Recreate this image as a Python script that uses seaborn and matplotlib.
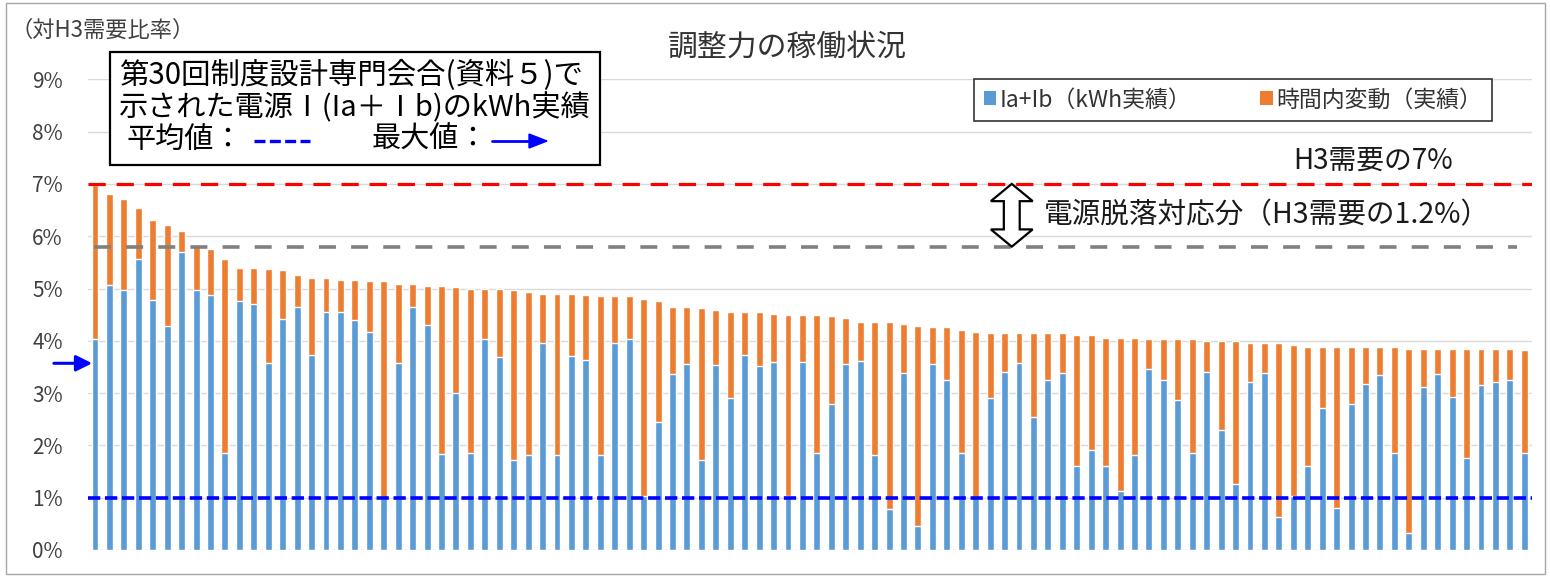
import numpy as np
import pandas as pd
import matplotlib
matplotlib.use("Agg")
import matplotlib.pyplot as plt
from matplotlib.patches import Patch, Rectangle, Polygon
from matplotlib.lines import Line2D
import seaborn as sns

# kWh actuals (Ia+Ib) as % of H3 demand, one value per record, sorted by total
ia_ib = [4.04, 5.06, 4.97, 5.57, 4.78, 4.28, 5.70, 4.97, 4.87, 1.85,
         4.76, 4.71, 3.58, 4.41, 4.64, 3.73, 4.55, 4.55, 4.39, 4.17,
         0.99, 3.58, 4.64, 4.30, 1.83, 3.01, 1.86, 4.04, 3.69, 1.72,
         1.82, 3.96, 1.82, 3.71, 3.64, 1.82, 3.96, 4.04, 1.03, 2.45,
         3.36, 3.55, 1.73, 3.54, 2.90, 3.73, 3.52, 3.60, 1.03, 3.60,
         1.85, 2.80, 3.55, 3.62, 1.82, 0.78, 3.38, 0.46, 3.55, 3.25,
         1.85, 1.02, 2.90, 3.41, 3.58, 2.55, 3.25, 3.38, 1.61, 1.91,
         1.61, 1.13, 1.82, 3.47, 3.25, 2.87, 1.85, 3.41, 2.29, 1.27,
         3.22, 3.38, 0.64, 1.03, 1.61, 2.71, 0.80, 2.80, 3.18, 3.34,
         1.85, 0.32, 3.12, 3.36, 2.93, 1.75, 3.15, 3.22, 3.25, 1.85]

# intra-hour fluctuation (actual), stacked on top of the kWh actuals
intra_hour = [2.93, 1.74, 1.74, 0.97, 1.53, 1.94, 0.40, 0.84, 0.88, 3.72,
              0.64, 0.69, 1.79, 0.94, 0.61, 1.47, 0.65, 0.62, 0.78, 0.97,
              4.15, 1.50, 0.44, 0.75, 3.22, 2.02, 3.14, 0.96, 1.31, 3.25,
              3.12, 0.94, 3.08, 1.19, 1.23, 3.03, 0.89, 0.81, 3.76, 2.31,
              1.29, 1.10, 2.89, 1.05, 1.65, 0.82, 1.03, 0.92, 3.47, 0.90,
              2.65, 1.67, 0.89, 0.73, 2.53, 3.57, 0.94, 3.83, 0.72, 1.02,
              2.35, 3.15, 1.25, 0.74, 0.57, 1.60, 0.90, 0.77, 2.51, 2.21,
              2.45, 2.93, 2.24, 0.56, 0.78, 1.16, 2.18, 0.59, 1.71, 2.73,
              0.74, 0.58, 3.32, 2.89, 2.28, 1.18, 3.09, 1.09, 0.71, 0.55,
              2.04, 3.53, 0.73, 0.49, 0.92, 2.10, 0.70, 0.63, 0.60, 1.97]

y_ticks = [0, 1, 2, 3, 4, 5, 6, 7, 8, 9]
y_tick_labels = [f"{v}%" for v in y_ticks]

limit_7pct = 7.0          # H3 demand 7%
outage_share = 1.2        # share for generator outage
kwh_avg = 1.0             # average of kWh actuals
kwh_max = 3.57            # maximum of kWh actuals

series_names = ["Ia+Ib（kWh実績）", "時間内変動（実績）"]
c_blue = "#5B9BD5"
c_orange = "#ED7D31"

sns.set_theme(style="white")
plt.rcParams["font.family"] = ["Noto Sans CJK JP", "DejaVu Sans"]

W, H = 1550, 578
fig = plt.figure(figsize=(W / 100, H / 100), dpi=100)


def fx(px):
    return px / W


def fy(py):
    return 1 - py / H


ax = fig.add_axes([fx(87.8), fy(550), fx(1443.7), (550 - 79.3) / H])

df = pd.DataFrame({
    "idx": np.arange(len(ia_ib)),
    "ia_ib": ia_ib,
    "intra": intra_hour,
})
df["total"] = df["ia_ib"] + df["intra"]

sns.barplot(data=df, x="idx", y="total", color=c_orange, saturation=1,
            width=0.48, errorbar=None, ax=ax, zorder=2)
sns.barplot(data=df, x="idx", y="ia_ib", color=c_blue, saturation=1,
            width=0.48, errorbar=None, ax=ax, zorder=2)

n = len(ia_ib)
ax.set_xlim(-0.5, n - 0.5)
ax.set_ylim(0, 9)
ax.set_yticks(y_ticks)
ax.set_yticklabels(y_tick_labels, fontsize=15, color="#404040")
ax.set_xticks([])
ax.set_xlabel("")
ax.set_ylabel("")
ax.tick_params(axis="y", length=0, pad=18)
for s in ax.spines.values():
    s.set_visible(False)
ax.yaxis.grid(True, color="#D9D9D9", lw=1.0)
ax.set_axisbelow(True)

# reference lines
ax.axhline(limit_7pct, color="#FF0000", lw=2.3, ls=(0, (5.4, 3.4)), zorder=4)
ax.axhline(limit_7pct - outage_share, xmin=0.004, xmax=0.99, color="#808080",
           lw=2.6, ls=(0, (4.7, 4.2)), zorder=4)
ax.axhline(kwh_avg, color="#0000FF", lw=2.6, ls=(0, (3.4, 1.3)), zorder=4)

# arrow marking the kWh maximum
ax.annotate("", xy=(0.003, kwh_max), xycoords=("axes fraction", "data"),
            xytext=(-0.0235, kwh_max), textcoords=("axes fraction", "data"),
            arrowprops=dict(arrowstyle="-|>", color="#0000FF", lw=2.2,
                            mutation_scale=24, shrinkA=0, shrinkB=0),
            annotation_clip=False, zorder=5)

# hollow double arrow spanning the outage share
xc = 63.5
hw, sw, hh = 1.45, 0.55, 0.33
top = limit_7pct
bot = limit_7pct - outage_share
arrow_pts = [(xc, top), (xc + hw, top - hh), (xc + sw, top - hh),
             (xc + sw, bot + hh), (xc + hw, bot + hh), (xc, bot),
             (xc - hw, bot + hh), (xc - sw, bot + hh), (xc - sw, top - hh),
             (xc - hw, top - hh)]
ax.add_patch(Polygon(arrow_pts, closed=True, facecolor="white",
                     edgecolor="black", lw=1.6, zorder=6, clip_on=False))

ax.text(65.7, 6.4, "電源脱落対応分（H3需要の1.2%）", fontsize=20.6,
        color="#1A1A1A", ha="left", va="center", zorder=6)
ax.text(88.5, 7.45, "H3需要の7%", fontsize=20, color="#1A1A1A",
        ha="center", va="center", zorder=6)

# title and axis caption
fig.text(fx(787), fy(47), "調整力の稼働状況", fontsize=21.5, color="#333333",
         ha="center", va="center")
fig.text(fx(10), fy(30), "（対H3需要比率）", fontsize=16, color="#404040",
         ha="left", va="center")

# legend
handles = [Patch(facecolor=c_blue, edgecolor="none"),
           Patch(facecolor=c_orange, edgecolor="none")]
leg = fig.legend(handles, series_names, loc="center",
                 bbox_to_anchor=(fx(1233), fy(100)), ncol=2, fontsize=16.5,
                 frameon=True, fancybox=False, framealpha=1,
                 edgecolor="#333333", handlelength=0.55, handleheight=0.55,
                 handletextpad=0.15, columnspacing=3.0, borderpad=0.42,
                 borderaxespad=0)
leg.get_frame().set_linewidth(1.2)
for t in leg.get_texts():
    t.set_color("#333333")

# note box about kWh actuals
fig.add_artist(Rectangle((fx(110), fy(165)), fx(490), (165 - 52) / H,
                         facecolor="white", edgecolor="black", lw=1.6,
                         zorder=5))
fig.text(fx(119), fy(75), "第30回制度設計専門会合(資料５)で", fontsize=21.2,
         color="black", ha="left", va="center", zorder=6)
fig.text(fx(119), fy(108), "示された電源Ⅰ(Ia＋Ⅰb)のkWh実績", fontsize=21,
         color="black", ha="left", va="center", zorder=6)
fig.text(fx(127), fy(140), "平均値：", fontsize=21, color="black",
         ha="left", va="center", zorder=6)
fig.text(fx(372), fy(140), "最大値：", fontsize=21, color="black",
         ha="left", va="center", zorder=6)
fig.add_artist(Line2D([fx(254), fx(310)], [fy(141), fy(141)],
                      color="#0000FF", lw=2.4, ls=(0, (3.3, 1.3)), zorder=6))
fig.add_artist(Line2D([fx(492), fx(530)], [fy(141), fy(141)],
                      color="#0000FF", lw=2.0, zorder=6))
fig.add_artist(Polygon([(fx(547), fy(141)), (fx(529), fy(134)),
                        (fx(529), fy(148))], closed=True, color="#0000FF",
                       zorder=6))

# outer frame
fig.add_artist(Rectangle((fx(6), fy(574)), fx(1539), (574 - 3) / H,
                         facecolor="none", edgecolor="#A6A6A6", lw=1.0,
                         zorder=0))

fig.savefig("out.png", dpi=100, facecolor="white")
